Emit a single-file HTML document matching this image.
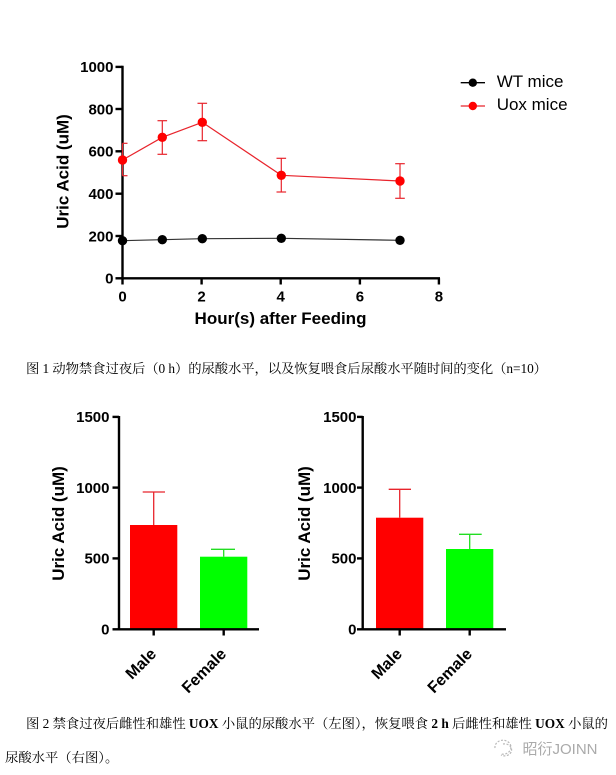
<!DOCTYPE html>
<html>
<head>
<meta charset="utf-8">
<style>
  html,body{margin:0;padding:0;background:#fff;}
  body{width:616px;height:775px;overflow:hidden;position:relative;}
  svg{position:absolute;left:0;top:0;}
  .ax{font-family:"Liberation Sans",Arial,sans-serif;font-weight:bold;fill:#000;}
  .cap{font-family:"Liberation Serif","Noto Serif CJK SC",serif;font-size:13.33px;fill:#000;}
</style>
</head>
<body>
<svg width="616" height="775" viewBox="0 0 616 775" xmlns="http://www.w3.org/2000/svg">
  <rect x="0" y="0" width="616" height="775" fill="#fff"/>

  <!-- ================= TOP LINE CHART ================= -->
  <g stroke="#000" stroke-width="2.4" fill="none">
    <line x1="122.5" y1="65.8" x2="122.5" y2="279.5"/>
    <line x1="121.3" y1="278.3" x2="440" y2="278.3"/>
    <line x1="115.5" y1="278.3" x2="122.5" y2="278.3"/>
    <line x1="115.5" y1="236.0" x2="122.5" y2="236.0"/>
    <line x1="115.5" y1="193.7" x2="122.5" y2="193.7"/>
    <line x1="115.5" y1="151.3" x2="122.5" y2="151.3"/>
    <line x1="115.5" y1="109.0" x2="122.5" y2="109.0"/>
    <line x1="115.5" y1="66.9" x2="122.5" y2="66.9"/>
    <line x1="122.5" y1="278.3" x2="122.5" y2="284.5"/>
    <line x1="201.6" y1="278.3" x2="201.6" y2="284.5"/>
    <line x1="280.7" y1="278.3" x2="280.7" y2="284.5"/>
    <line x1="359.9" y1="278.3" x2="359.9" y2="284.5"/>
    <line x1="438.9" y1="278.3" x2="438.9" y2="284.5"/>
  </g>
  <g class="ax" font-size="15" text-anchor="end">
    <text x="113.5" y="283.6">0</text>
    <text x="113.5" y="241.3">200</text>
    <text x="113.5" y="199.0">400</text>
    <text x="113.5" y="156.6">600</text>
    <text x="113.5" y="114.3">800</text>
    <text x="113.5" y="72.2">1000</text>
  </g>
  <g class="ax" font-size="15" text-anchor="middle">
    <text x="122.5" y="301.7">0</text>
    <text x="201.6" y="301.7">2</text>
    <text x="280.7" y="301.7">4</text>
    <text x="359.9" y="301.7">6</text>
    <text x="438.9" y="301.7">8</text>
  </g>
  <text class="ax" font-size="17" text-anchor="middle" x="280.5" y="324">Hour(s) after Feeding</text>
  <text class="ax" font-size="17" text-anchor="middle" transform="translate(68.3,171.5) rotate(-90)">Uric Acid (uM)</text>

  <polyline points="122.5,240.7 162.3,239.7 202.3,238.7 281.3,238.3 400,240.3" fill="none" stroke="#333" stroke-width="1.2"/>
  <g fill="#000">
    <circle cx="122.5" cy="240.7" r="4.7"/>
    <circle cx="162.3" cy="239.7" r="4.7"/>
    <circle cx="202.3" cy="238.7" r="4.7"/>
    <circle cx="281.3" cy="238.3" r="4.7"/>
    <circle cx="400" cy="240.3" r="4.7"/>
  </g>

  <g stroke="#e8242c" stroke-width="1.2" fill="none">
    <polyline points="122.5,160 162.3,137.3 202.3,122.3 281.3,175.3 400,181"/>
    <line x1="122.5" y1="143.3" x2="122.5" y2="175.7"/>
    <line x1="122.5" y1="143.3" x2="127.5" y2="143.3"/>
    <line x1="122.5" y1="175.7" x2="127.5" y2="175.7"/>
    <line x1="162.3" y1="120.7" x2="162.3" y2="154.3"/>
    <line x1="157.5" y1="120.7" x2="167.1" y2="120.7"/>
    <line x1="157.5" y1="154.3" x2="167.1" y2="154.3"/>
    <line x1="202.3" y1="103.3" x2="202.3" y2="140.7"/>
    <line x1="197.5" y1="103.3" x2="207.1" y2="103.3"/>
    <line x1="197.5" y1="140.7" x2="207.1" y2="140.7"/>
    <line x1="281.3" y1="158.3" x2="281.3" y2="192"/>
    <line x1="276.5" y1="158.3" x2="286.1" y2="158.3"/>
    <line x1="276.5" y1="192" x2="286.1" y2="192"/>
    <line x1="400" y1="163.7" x2="400" y2="198.3"/>
    <line x1="395.2" y1="163.7" x2="404.8" y2="163.7"/>
    <line x1="395.2" y1="198.3" x2="404.8" y2="198.3"/>
  </g>
  <g fill="#ff0000">
    <circle cx="122.5" cy="160" r="4.7"/>
    <circle cx="162.3" cy="137.3" r="4.7"/>
    <circle cx="202.3" cy="122.3" r="4.7"/>
    <circle cx="281.3" cy="175.3" r="4.7"/>
    <circle cx="400" cy="181" r="4.7"/>
  </g>

  <line x1="460.7" y1="82.7" x2="485" y2="82.7" stroke="#000" stroke-width="1.3"/>
  <circle cx="472.8" cy="82.7" r="4.2" fill="#000"/>
  <line x1="460.7" y1="106" x2="485" y2="106" stroke="#e8242c" stroke-width="1.3"/>
  <circle cx="472.8" cy="106" r="4.2" fill="#ff0000"/>
  <g font-family="Liberation Sans, Arial, sans-serif" font-size="17" fill="#000">
    <text x="496.7" y="86.8">WT mice</text>
    <text x="496.7" y="110.2">Uox mice</text>
  </g>

  <text class="cap" x="26" y="373" textLength="521" lengthAdjust="spacing" xml:space="preserve">图 1 动物禁食过夜后（0 h）的尿酸水平，以及恢复喂食后尿酸水平随时间的变化（n=10）</text>

  <!-- LEFT BAR CHART -->
  <rect x="130" y="525" width="47.3" height="104.3" fill="#ff0000"/>
  <rect x="200" y="556.7" width="47.3" height="72.6" fill="#00ff00"/>
  <g stroke-width="1.3" fill="none">
    <line x1="153.7" y1="525" x2="153.7" y2="492" stroke="#e8242c"/>
    <line x1="142.7" y1="492" x2="165" y2="492" stroke="#e8242c"/>
    <line x1="223.7" y1="556.7" x2="223.7" y2="549.3" stroke="#22dd22"/>
    <line x1="211" y1="549.3" x2="235" y2="549.3" stroke="#22dd22"/>
  </g>
  <g stroke="#000" stroke-width="2.4" fill="none">
    <line x1="119" y1="416" x2="119" y2="630.5"/>
    <line x1="117.8" y1="629.3" x2="259" y2="629.3"/>
    <line x1="112.5" y1="416.9" x2="119" y2="416.9"/>
    <line x1="112.5" y1="487.6" x2="119" y2="487.6"/>
    <line x1="112.5" y1="558.4" x2="119" y2="558.4"/>
    <line x1="112.5" y1="629.3" x2="119" y2="629.3"/>
    <line x1="153.7" y1="629.3" x2="153.7" y2="635.5"/>
    <line x1="223.7" y1="629.3" x2="223.7" y2="635.5"/>
  </g>
  <g class="ax" font-size="15" text-anchor="end">
    <text x="109.5" y="422.2">1500</text>
    <text x="109.5" y="492.9">1000</text>
    <text x="109.5" y="563.7">500</text>
    <text x="109.5" y="634.6">0</text>
  </g>
  <text class="ax" font-size="17" text-anchor="middle" transform="translate(64,523.5) rotate(-90)">Uric Acid (uM)</text>
  <g class="ax" font-size="16" text-anchor="end">
    <text transform="translate(157.2,655) rotate(-45)">Male</text>
    <text transform="translate(227.2,655) rotate(-45)">Female</text>
  </g>

  <!-- RIGHT BAR CHART -->
  <rect x="376" y="517.7" width="47.3" height="111.6" fill="#ff0000"/>
  <rect x="446" y="549" width="47.3" height="80.3" fill="#00ff00"/>
  <g stroke-width="1.3" fill="none">
    <line x1="399.7" y1="517.7" x2="399.7" y2="489.3" stroke="#e8242c"/>
    <line x1="388.7" y1="489.3" x2="411" y2="489.3" stroke="#e8242c"/>
    <line x1="469.7" y1="549" x2="469.7" y2="534.3" stroke="#22dd22"/>
    <line x1="459" y1="534.3" x2="481.7" y2="534.3" stroke="#22dd22"/>
  </g>
  <g stroke="#000" stroke-width="2.4" fill="none">
    <line x1="362.7" y1="416" x2="362.7" y2="630.5"/>
    <line x1="361.5" y1="629.3" x2="506" y2="629.3"/>
    <line x1="357" y1="416.9" x2="362.7" y2="416.9"/>
    <line x1="357" y1="487.6" x2="362.7" y2="487.6"/>
    <line x1="357" y1="558.4" x2="362.7" y2="558.4"/>
    <line x1="357" y1="629.3" x2="362.7" y2="629.3"/>
    <line x1="399.7" y1="629.3" x2="399.7" y2="635.5"/>
    <line x1="469.7" y1="629.3" x2="469.7" y2="635.5"/>
  </g>
  <g class="ax" font-size="15" text-anchor="end">
    <text x="356.5" y="422.2">1500</text>
    <text x="356.5" y="492.9">1000</text>
    <text x="356.5" y="563.7">500</text>
    <text x="356.5" y="634.6">0</text>
  </g>
  <text class="ax" font-size="17" text-anchor="middle" transform="translate(310,523.5) rotate(-90)">Uric Acid (uM)</text>
  <g class="ax" font-size="16" text-anchor="end">
    <text transform="translate(403,655) rotate(-45)">Male</text>
    <text transform="translate(473,655) rotate(-45)">Female</text>
  </g>

  <text class="cap" x="26" y="728" textLength="582" lengthAdjust="spacing" xml:space="preserve">图 2 禁食过夜后雌性和雄性 <tspan font-weight="bold">UOX</tspan> 小鼠的尿酸水平（左图），恢复喂食 <tspan font-weight="bold">2 h</tspan> 后雌性和雄性 <tspan font-weight="bold">UOX</tspan> 小鼠的</text>
  <text class="cap" x="5" y="762">尿酸水平（右图）。</text>

  <g stroke="#b8b8b8" stroke-width="1.2" fill="none">
    <path d="M495,748 a8,7 0 1,1 6,6" stroke-dasharray="2,1.5"/>
    <path d="M503,744 a7,6 0 1,1 -2,11" stroke-dasharray="2,1.5"/>
  </g>
  <text x="522.5" y="754" font-family="Liberation Sans, Noto Sans CJK SC, sans-serif" font-size="15" fill="#aaaaaa">昭衍JOINN</text>
</svg>
</body>
</html>
